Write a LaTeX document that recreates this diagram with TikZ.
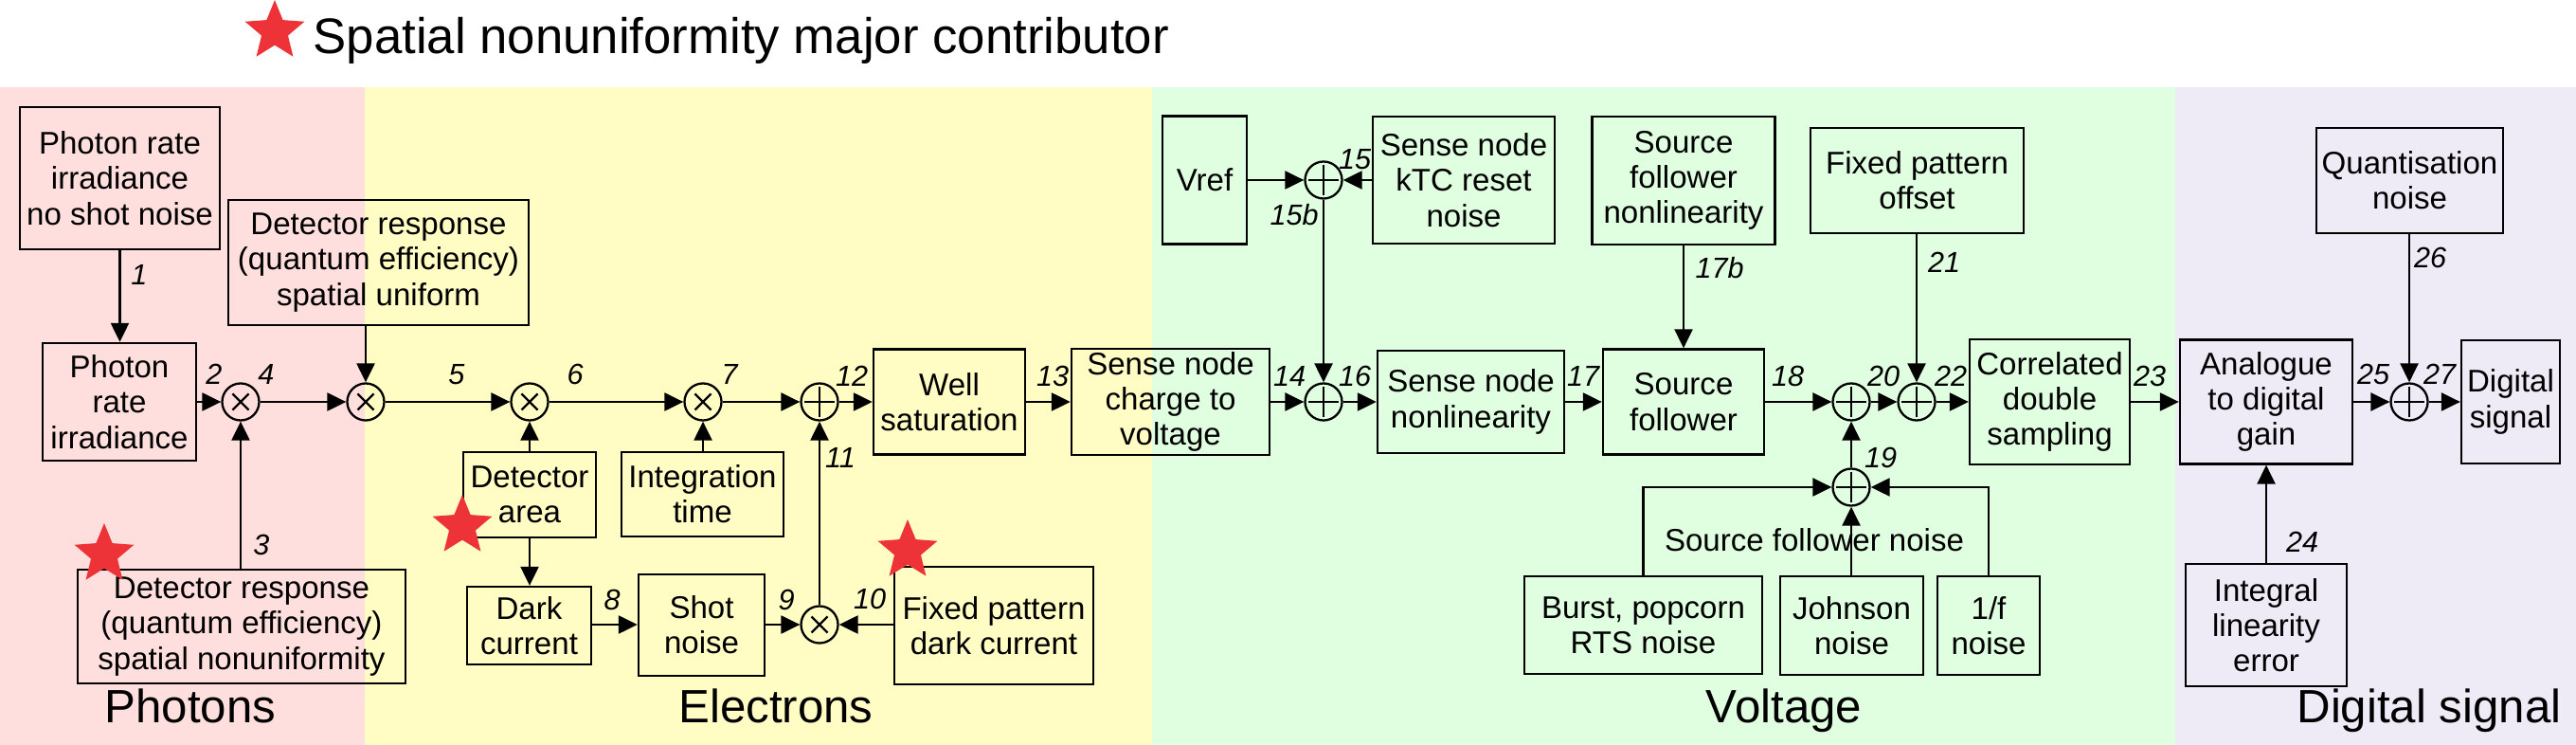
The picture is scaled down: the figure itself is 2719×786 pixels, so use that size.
\documentclass[tikz,border=0pt]{standalone}
\usepackage{fontspec}
\setmainfont{Liberation Sans}
\usetikzlibrary{arrows.meta,shapes.geometric}
\definecolor{bandred}{HTML}{FFDEDE}
\definecolor{bandyellow}{HTML}{FFFCC4}
\definecolor{bandgreen}{HTML}{E0FEE0}
\definecolor{bandviolet}{HTML}{EEEBF6}
\definecolor{starred}{HTML}{EE3338}
\tikzset{
  blk/.style={draw, line width=0.65pt, inner sep=0pt, align=center, font=\fontsize{9.4}{10.6}\selectfont},
  num/.style={font=\fontsize{8.7}{9}\selectfont\itshape, inner sep=0pt},
  conn/.style={line width=0.65pt, -{Triangle[length=0.2cm,width=0.19cm]}},
  plainline/.style={line width=0.65pt},
  sumop/.style={circle, draw, line width=0.65pt, minimum size=0.39cm, inner sep=0pt,
    path picture={\draw[line width=0.65pt]
      ([xshift=-0.16cm]path picture bounding box.center) -- ([xshift=0.16cm]path picture bounding box.center)
      ([yshift=-0.16cm]path picture bounding box.center) -- ([yshift=0.16cm]path picture bounding box.center);}},
  mulop/.style={circle, draw, line width=0.65pt, minimum size=0.39cm, inner sep=0pt,
    path picture={\draw[line width=0.65pt]
      ([shift={(-0.085cm,-0.085cm)}]path picture bounding box.center) -- ([shift={(0.085cm,0.085cm)}]path picture bounding box.center)
      ([shift={(-0.085cm,0.085cm)}]path picture bounding box.center) -- ([shift={(0.085cm,-0.085cm)}]path picture bounding box.center);}},
  redstar/.style={star, star points=5, star point ratio=2.25, fill=starred, draw=none, minimum size=0.66cm, inner sep=0pt},
  region/.style={font=\fontsize{14}{16}\selectfont, anchor=base, inner sep=0pt}
}
\begin{document}
\begin{tikzpicture}[x=0.01cm, y=-0.01cm]
\useasboundingbox (0,0) rectangle (2719,786);
% bands
\fill[bandred] (0,92) rectangle (385,786);
\fill[bandyellow] (385,92) rectangle (1216,786);
\fill[bandgreen] (1216,92) rectangle (2296,786);
\fill[bandviolet] (2296,92) rectangle (2719,786);
% header
\node[redstar] (hstar) at (290,33) {};
\node[font=\fontsize{15}{17}\selectfont, anchor=base west, inner sep=0pt] (htext) at (330,57) {Spatial nonuniformity major contributor};
% region labels
\node[region] (lphot) at (201,762) {Photons};
\node[region] (lelec) at (819,762) {Electrons};
\node[region] (lvolt) at (1883,762) {Voltage};
\node[region] (ldig) at (2564,762) {Digital signal};
% boxes
\node[blk, minimum width=2.11cm, minimum height=1.50cm] (A) at (126.5,188) {Photon rate\\irradiance\\no shot noise};
\node[blk, minimum width=3.17cm, minimum height=1.32cm] (B) at (399.5,277) {Detector response\\(quantum efficiency)\\spatial uniform};
\node[blk, minimum width=1.62cm, minimum height=1.24cm] (C) at (126,424) {Photon\\rate\\irradiance};
\node[blk, minimum width=3.46cm, minimum height=1.20cm] (D) at (255,661) {Detector response\\(quantum efficiency)\\spatial nonuniformity};
\node[blk, minimum width=1.40cm, minimum height=0.90cm] (DA) at (559,522) {Detector\\area};
\node[blk, minimum width=1.31cm, minimum height=0.82cm] (DC) at (558.5,660) {Dark\\current};
\node[blk, minimum width=1.71cm, minimum height=0.89cm] (IT) at (741.5,521.5) {Integration\\time};
\node[blk, minimum width=1.33cm, minimum height=1.07cm] (SN) at (740.5,659.5) {Shot\\noise};
\node[blk, minimum width=2.10cm, minimum height=1.24cm] (FPDC) at (1049,660) {Fixed pattern\\dark current};
\node[blk, minimum width=1.60cm, minimum height=1.11cm] (WS) at (1002,424) {Well\\saturation};
\node[blk, minimum width=2.09cm, minimum height=1.12cm] (SNCV) at (1235.5,424) {Sense node\\charge to\\voltage};
\node[blk, minimum width=0.89cm, minimum height=1.35cm] (Vref) at (1271.5,190) {Vref};
\node[blk, minimum width=1.92cm, minimum height=1.34cm] (kTC) at (1545,190) {Sense node\\kTC reset\\noise};
\node[blk, minimum width=1.97cm, minimum height=1.08cm] (SNN) at (1552.5,424) {Sense node\\nonlinearity};
\node[blk, minimum width=1.93cm, minimum height=1.35cm] (SFN) at (1777,190.5) {Source\\follower\\nonlinearity};
\node[blk, minimum width=1.70cm, minimum height=1.11cm] (SF) at (1777,424) {Source\\follower};
\node[blk, minimum width=2.25cm, minimum height=1.11cm] (FPO) at (2023.5,190.5) {Fixed pattern\\offset};
\node[blk, minimum width=1.69cm, minimum height=1.32cm] (CDS) at (2163.5,424) {Correlated\\double\\sampling};
\node[blk, minimum width=2.51cm, minimum height=1.03cm] (Burst) at (1734.5,659.5) {Burst, popcorn\\RTS noise};
\node[blk, minimum width=1.51cm, minimum height=1.04cm] (John) at (1954.5,660) {Johnson\\noise};
\node[blk, minimum width=1.08cm, minimum height=1.04cm] (OneF) at (2099,660) {1/f\\noise};
\node[blk, minimum width=1.82cm, minimum height=1.31cm] (ADG) at (2392,424) {Analogue\\to digital\\gain};
\node[blk, minimum width=1.97cm, minimum height=1.11cm] (QN) at (2543.5,190.5) {Quantisation\\noise};
\node[blk, minimum width=1.04cm, minimum height=1.30cm] (DS) at (2650,424) {Digital\\signal};
\node[blk, minimum width=1.70cm, minimum height=1.29cm] (ILE) at (2392,659.5) {Integral\\linearity\\error};
\node[font=\fontsize{9.4}{10.6}\selectfont, inner sep=0pt] (sfnoise) at (1915,570) {Source follower noise};
% stars
\node[redstar] (s1) at (110,585) {};
\node[redstar] (s2) at (488,555) {};
\node[redstar] (s3) at (958,581) {};
% operators
\node[mulop] (m1) at (254,424) {};
\node[mulop] (m2) at (386,424) {};
\node[mulop] (m3) at (559,424) {};
\node[mulop] (m4) at (742,424) {};
\node[sumop] (a1) at (865,424) {};
\node[mulop] (m5) at (865,659) {};
\node[sumop] (a2) at (1397,190) {};
\node[sumop] (a3) at (1397,424) {};
\node[sumop] (a4) at (1954,424) {};
\node[sumop] (a5) at (2023,424) {};
\node[sumop] (a6) at (1954,514) {};
\node[sumop] (a7) at (2543,424) {};
% connectors
\draw[conn] (A.south) -- (A.south |- C.north);
\draw[conn] (C) -- (m1);
\draw[conn] (m1 |- D.north) -- (m1);
\draw[conn] (m1) -- (m2);
\draw[conn] (m2 |- B.south) -- (m2);
\draw[conn] (m2) -- (m3);
\draw[conn] (m3 |- DA.north) -- (m3);
\draw[conn] (DA.south) -- (DA.south |- DC.north);
\draw[conn] (m3) -- (m4);
\draw[conn] (m4 |- IT.north) -- (m4);
\draw[conn] (m4) -- (a1);
\draw[conn] (DC.east |- m5) -- (SN.west |- m5);
\draw[conn] (SN.east |- m5) -- (m5);
\draw[conn] (FPDC.west |- m5) -- (m5);
\draw[conn] (m5) -- (a1);
\draw[conn] (a1) -- (WS);
\draw[conn] (WS) -- (SNCV);
\draw[conn] (SNCV) -- (a3);
\draw[conn] (Vref) -- (a2);
\draw[conn] (kTC) -- (a2);
\draw[conn] (a2) -- (a3);
\draw[conn] (a3) -- (SNN);
\draw[conn] (SNN) -- (SF);
\draw[conn] (SFN) -- (SF);
\draw[conn] (SF) -- (a4);
\draw[conn] (a4) -- (a5);
\draw[conn] (a5 |- FPO.south) -- (a5);
\draw[conn] (a5) -- (CDS);
\draw[conn] (a6) -- (a4);
\draw[conn] (Burst.north) |- (a6);
\draw[conn] (a6 |- John.north) -- (a6);
\draw[conn] (OneF.north) |- (a6);
\draw[conn] (CDS) -- (ADG);
\draw[conn] (ILE) -- (ADG);
\draw[conn] (ADG) -- (a7);
\draw[conn] (a7 |- QN.south) -- (a7);
\draw[conn] (a7) -- (DS);
% numbers
\node[num] (n1) at (147,290) {1};
\node[num] (n2) at (226,395) {2};
\node[num] (n3) at (276,575) {3};
\node[num] (n4) at (281,395) {4};
\node[num] (n5) at (482,395) {5};
\node[num] (n6) at (607,395) {6};
\node[num] (n7) at (770,395) {7};
\node[num] (n8) at (646,633) {8};
\node[num] (n9) at (830,633) {9};
\node[num] (n10) at (918,632) {10};
\node[num] (n11) at (887,483) {11};
\node[num] (n12) at (899,397) {12};
\node[num] (n13) at (1111,397) {13};
\node[num] (n14) at (1361,397) {14};
\node[num] (n15) at (1430,168) {15};
\node[num] (n15b) at (1366,227) {15b};
\node[num] (n16) at (1430,397) {16};
\node[num] (n17) at (1671,397) {17};
\node[num] (n17b) at (1815,283) {17b};
\node[num] (n18) at (1887,397) {18};
\node[num] (n19) at (1985,483) {19};
\node[num] (n20) at (1988,397) {20};
\node[num] (n21) at (2052,277) {21};
\node[num] (n22) at (2059,397) {22};
\node[num] (n23) at (2269,397) {23};
\node[num] (n24) at (2430,572) {24};
\node[num] (n25) at (2505,395) {25};
\node[num] (n26) at (2565,272) {26};
\node[num] (n27) at (2575,395) {27};
\end{tikzpicture}
\end{document}
